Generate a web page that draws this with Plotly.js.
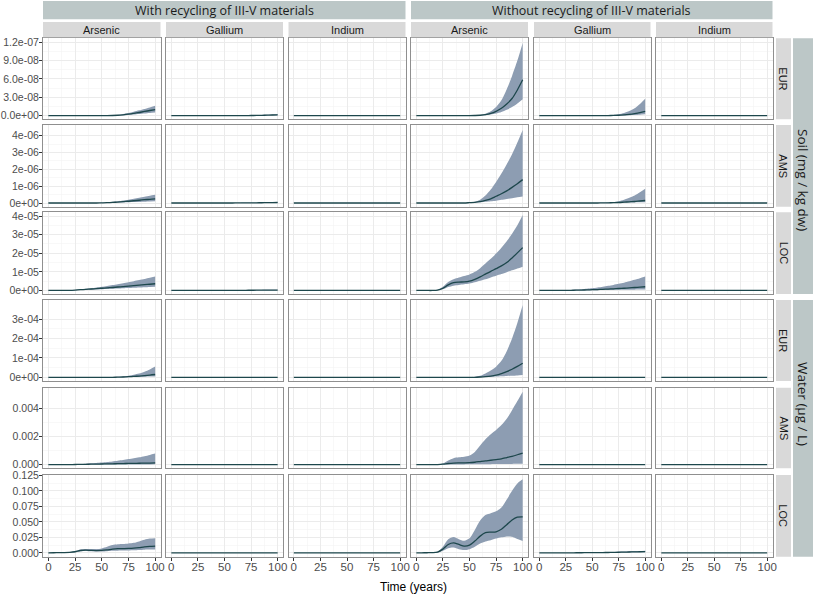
<!DOCTYPE html>
<html>
<head>
<meta charset="utf-8">
<script src="https://cdn.plot.ly/plotly-3.0.1.min.js"></script>
<style>html,body{margin:0;padding:0;background:#fff}#chart{width:813px;height:594px}</style>
</head>
<body>
<div id="chart"></div>
<script>
// ---------------- DATA ----------------
const scenarios = ['With recycling of III-V materials', 'Without recycling of III-V materials'];
const elements = ['Arsenic', 'Gallium', 'Indium'];
const regions = ['EUR', 'AMS', 'LOC'];
const media = ['Soil (mg / kg dw)', 'Water (µg / L)'];
const xTickVals = [0, 25, 50, 75, 100];
const xTickText = ['0', '25', '50', '75', '100'];
const time = [0,5,10,15,20,25,30,35,40,45,50,55,60,65,70,75,80,85,90,95,100];
const zeroSeries = [0,0,0,0,0,0,0,0,0,0,0,0,0,0,0,0,0,0,0,0,0];

// y ticks per row
const yTicks0 = [0, 3e-8, 6e-8, 9e-8, 1.2e-7];
const yText0 = ['0.0e+00', '3.0e-08', '6.0e-08', '9.0e-08', '1.2e-07'];
const yTicks1 = [0, 1e-6, 2e-6, 3e-6, 4e-6];
const yText1 = ['0e+00', '1e-06', '2e-06', '3e-06', '4e-06'];
const yTicks2 = [0, 1e-5, 2e-5, 3e-5, 4e-5];
const yText2 = ['0e+00', '1e-05', '2e-05', '3e-05', '4e-05'];
const yTicks3 = [0, 1e-4, 2e-4, 3e-4];
const yText3 = ['0e+00', '1e-04', '2e-04', '3e-04'];
const yTicks4 = [0, 0.002, 0.004];
const yText4 = ['0.000', '0.002', '0.004'];
const yTicks5 = [0, 0.025, 0.05, 0.075, 0.1, 0.125];
const yText5 = ['0.000', '0.025', '0.050', '0.075', '0.100', '0.125'];

// Soil EUR
const soilEUR_with_As_med = [0,0,0,0,0,0,0,0,0,0,0,0,2e-10,6e-10,1.3e-9,2.3e-9,3.6e-9,5.1e-9,6.8e-9,8.4e-9,1e-8];
const soilEUR_with_As_lo  = [0,0,0,0,0,0,0,0,0,0,0,0,1e-10,3e-10,6e-10,1.1e-9,1.8e-9,2.6e-9,3.4e-9,4.2e-9,5e-9];
const soilEUR_with_As_hi  = [0,0,0,0,0,0,0,0,0,0,0,0,4e-10,1.2e-9,2.5e-9,4.2e-9,6.3e-9,8.6e-9,1.1e-8,1.35e-8,1.6e-8];
const soilEUR_with_Ga_med = [0,0,0,0,0,0,0,0,0,0,0,0,0,5e-11,1e-10,2e-10,3e-10,5e-10,7e-10,1e-9,1.3e-9];
const soilEUR_with_Ga_lo  = [0,0,0,0,0,0,0,0,0,0,0,0,0,2e-11,5e-11,1e-10,2e-10,3e-10,4e-10,6e-10,8e-10];
const soilEUR_with_Ga_hi  = [0,0,0,0,0,0,0,0,0,0,0,0,0,1e-10,2e-10,4e-10,6e-10,9e-10,1.3e-9,1.7e-9,2.2e-9];
const soilEUR_without_As_med = [0,0,0,0,0,0,0,0,0,0,0,2e-10,6e-10,1.5e-9,3.5e-9,7e-9,1.2e-8,1.9e-8,2.8e-8,4.2e-8,5.86e-8];
const soilEUR_without_As_lo  = [0,0,0,0,0,0,0,0,0,0,0,1e-10,3e-10,8e-10,1.8e-9,3.5e-9,6e-9,9.5e-9,1.4e-8,2e-8,2.7e-8];
const soilEUR_without_As_hi  = [0,0,0,0,0,0,0,0,0,0,0,4e-10,1.2e-9,3e-9,7e-9,1.4e-8,2.5e-8,4.3e-8,6.5e-8,9e-8,1.19e-7];
const soilEUR_without_Ga_med = [0,0,0,0,0,0,0,0,0,0,0,0,0,1e-10,3e-10,6e-10,1.2e-9,2e-9,3.2e-9,4.8e-9,7e-9];
const soilEUR_without_Ga_lo  = [0,0,0,0,0,0,0,0,0,0,0,0,0,5e-11,1e-10,2e-10,4e-10,7e-10,1.1e-9,1.6e-9,2.2e-9];
const soilEUR_without_Ga_hi  = [0,0,0,0,0,0,0,0,0,0,0,0,1e-10,3e-10,1e-9,2.2e-9,4.2e-9,7.5e-9,1.2e-8,1.9e-8,2.77e-8];

// Soil AMS
const soilAMS_with_As_med = [0,0,0,0,0,0,0,0,0,0,1e-8,2e-8,3.5e-8,5.5e-8,8e-8,1.05e-7,1.35e-7,1.65e-7,1.95e-7,2.2e-7,2.4e-7];
const soilAMS_with_As_lo  = [0,0,0,0,0,0,0,0,0,0,5e-9,1e-8,1.6e-8,2.4e-8,3.3e-8,4.3e-8,5.4e-8,6.5e-8,7.7e-8,8.9e-8,1e-7];
const soilAMS_with_As_hi  = [0,0,0,0,0,0,0,0,0,0,2e-8,4e-8,7e-8,1.05e-7,1.5e-7,2e-7,2.55e-7,3.1e-7,3.7e-7,4.3e-7,4.9e-7];
const soilAMS_with_Ga_med = [0,0,0,0,0,0,0,0,0,0,0,1e-9,2e-9,4e-9,6e-9,9e-9,1.2e-8,1.6e-8,2e-8,2.5e-8,3e-8];
const soilAMS_with_Ga_lo  = [0,0,0,0,0,0,0,0,0,0,0,5e-10,1e-9,2e-9,3e-9,4.5e-9,6e-9,8e-9,1e-8,1.2e-8,1.5e-8];
const soilAMS_with_Ga_hi  = [0,0,0,0,0,0,0,0,0,0,0,2e-9,4e-9,7e-9,1.1e-8,1.6e-8,2.2e-8,2.8e-8,3.5e-8,4.2e-8,5e-8];
const soilAMS_without_As_med = [0,0,0,0,0,0,0,0,0,0,2e-8,4e-8,8e-8,1.5e-7,2.5e-7,4e-7,5.5e-7,7.2e-7,9.3e-7,1.15e-6,1.39e-6];
const soilAMS_without_As_lo  = [0,0,0,0,0,0,0,0,0,0,1e-8,2e-8,4e-8,7e-8,1e-7,1.4e-7,1.9e-7,2.4e-7,2.9e-7,3.4e-7,3.9e-7];
const soilAMS_without_As_hi  = [0,0,0,0,0,0,0,0,0,0,3e-8,8e-8,2e-7,4.5e-7,8e-7,1.25e-6,1.75e-6,2.3e-6,2.9e-6,3.6e-6,4.35e-6];
const soilAMS_without_Ga_med = [0,0,0,0,0,0,0,0,0,0,0,0,5e-9,1e-8,2e-8,3e-8,5e-8,7e-8,9e-8,1.2e-7,1.5e-7];
const soilAMS_without_Ga_lo  = [0,0,0,0,0,0,0,0,0,0,0,0,2e-9,4e-9,8e-9,1.2e-8,1.8e-8,2.5e-8,3.2e-8,4e-8,5e-8];
const soilAMS_without_Ga_hi  = [0,0,0,0,0,0,0,0,0,0,0,5e-9,1.5e-8,3e-8,6e-8,1.1e-7,2e-7,3.1e-7,4.5e-7,6.4e-7,8.5e-7];

// Soil LOC
const soilLOC_with_As_med = [0,0,0,0,5e-8,2e-7,4e-7,6e-7,8e-7,1e-6,1.2e-6,1.4e-6,1.6e-6,1.85e-6,2.1e-6,2.35e-6,2.6e-6,2.85e-6,3.1e-6,3.35e-6,3.6e-6];
const soilLOC_with_As_lo  = [0,0,0,0,2e-8,1e-7,2e-7,3e-7,4e-7,5.5e-7,7e-7,8e-7,9e-7,1e-6,1.2e-6,1.3e-6,1.45e-6,1.6e-6,1.75e-6,1.9e-6,2e-6];
const soilLOC_with_As_hi  = [0,0,0,0,1e-7,3e-7,6e-7,9e-7,1.2e-6,1.6e-6,2e-6,2.45e-6,2.9e-6,3.4e-6,3.9e-6,4.45e-6,5e-6,5.6e-6,6.2e-6,6.85e-6,7.5e-6];
const soilLOC_with_Ga_med = [0,0,0,0,0,0,5e-9,1e-8,2e-8,3e-8,4e-8,5e-8,6e-8,8e-8,1e-7,1.1e-7,1.3e-7,1.5e-7,1.7e-7,1.85e-7,2e-7];
const soilLOC_with_Ga_lo  = [0,0,0,0,0,0,2e-9,5e-9,1e-8,1.5e-8,2e-8,2.5e-8,3e-8,4e-8,5e-8,5.5e-8,6.5e-8,7.5e-8,8.5e-8,9e-8,1e-7];
const soilLOC_with_Ga_hi  = [0,0,0,0,0,0,1e-8,2e-8,4e-8,6e-8,8e-8,1e-7,1.2e-7,1.6e-7,2e-7,2.2e-7,2.6e-7,3e-7,3.4e-7,3.7e-7,4e-7];
const soilLOC_without_As_med = [0,0,0,0,2e-7,1.2e-6,3e-6,4.2e-6,4.5e-6,4.6e-6,5e-6,6e-6,7.3e-6,8.8e-6,1.03e-5,1.17e-5,1.32e-5,1.5e-5,1.75e-5,2.02e-5,2.3e-5];
const soilLOC_without_As_lo  = [0,0,0,0,1e-7,6e-7,1.8e-6,2.6e-6,3e-6,3.3e-6,3.7e-6,4.4e-6,5.2e-6,6e-6,7e-6,7.9e-6,8.8e-6,9.8e-6,1.08e-5,1.18e-5,1.28e-5];
const soilLOC_without_As_hi  = [0,0,0,0,4e-7,2e-6,4.5e-6,6e-6,7e-6,7.8e-6,8.6e-6,1e-5,1.2e-5,1.45e-5,1.7e-5,1.98e-5,2.3e-5,2.65e-5,3.05e-5,3.5e-5,4.05e-5];
const soilLOC_without_Ga_med = [0,0,0,0,0,2e-8,1e-7,1.5e-7,2e-7,3e-7,4e-7,5e-7,6e-7,7.5e-7,9e-7,1.05e-6,1.2e-6,1.4e-6,1.6e-6,1.8e-6,2e-6];
const soilLOC_without_Ga_lo  = [0,0,0,0,0,1e-8,4e-8,6e-8,8e-8,1e-7,1.3e-7,1.6e-7,2e-7,2.4e-7,2.8e-7,3.2e-7,3.6e-7,4e-7,4.4e-7,4.7e-7,5e-7];
const soilLOC_without_Ga_hi  = [0,0,0,0,0,5e-8,3e-7,5e-7,7e-7,9.5e-7,1.2e-6,1.6e-6,2e-6,2.5e-6,3e-6,3.6e-6,4.2e-6,4.9e-6,5.7e-6,6.6e-6,7.5e-6];

// Water EUR
const waterEUR_with_As_med = [0,0,0,0,0,0,0,0,0,0,0,2e-7,5e-7,1e-6,2e-6,3.5e-6,5e-6,7e-6,9.5e-6,1.2e-5,1.5e-5];
const waterEUR_with_As_lo  = [0,0,0,0,0,0,0,0,0,0,0,1e-7,2e-7,4e-7,7e-7,1.1e-6,1.6e-6,2.2e-6,3e-6,4e-6,5e-6];
const waterEUR_with_As_hi  = [0,0,0,0,0,0,0,0,0,0,0,5e-7,1.5e-6,3e-6,5.5e-6,9e-6,1.4e-5,2e-5,2.9e-5,4.1e-5,5.6e-5];
const waterEUR_without_As_med = [0,0,0,0,0,0,0,0,0,0,0,5e-7,2e-6,4e-6,7e-6,1.2e-5,2e-5,3e-5,4.2e-5,5.7e-5,7.3e-5];
const waterEUR_without_As_lo  = [0,0,0,0,0,0,0,0,0,0,0,2e-7,7e-7,1.5e-6,2.5e-6,4e-6,5.5e-6,7e-6,8.5e-6,1e-5,1.2e-5];
const waterEUR_without_As_hi  = [0,0,0,0,0,0,0,0,0,0,0,3e-6,8e-6,2e-5,3.5e-5,5.5e-5,8.5e-5,1.35e-4,2e-4,2.8e-4,3.72e-4];

// Water AMS
const waterAMS_with_As_med = [0,0,0,0,5e-6,1e-5,1.5e-5,2.2e-5,3e-5,3.7e-5,4.5e-5,5.2e-5,6e-5,6.7e-5,7.5e-5,8.2e-5,9e-5,9.7e-5,1.05e-4,1.12e-4,1.2e-4];
const waterAMS_with_As_lo  = [0,0,0,0,1e-6,2e-6,3e-6,4e-6,5e-6,6e-6,7e-6,8e-6,9e-6,1e-5,1.1e-5,1.2e-5,1.35e-5,1.5e-5,1.65e-5,1.8e-5,2e-5];
const waterAMS_with_As_hi  = [0,0,0,0,1e-5,2.5e-5,4e-5,6.5e-5,9e-5,1.2e-4,1.5e-4,1.9e-4,2.3e-4,2.8e-4,3.3e-4,3.9e-4,4.5e-4,5.2e-4,6e-4,6.9e-4,7.8e-4];
const waterAMS_without_As_med = [0,0,0,0,5e-6,3e-5,8e-5,1.1e-4,1.2e-4,1.25e-4,1.35e-4,1.7e-4,2.2e-4,2.7e-4,3.1e-4,3.6e-4,4.1e-4,5e-4,5.9e-4,7e-4,8.2e-4];
const waterAMS_without_As_lo  = [0,0,0,0,1e-6,5e-6,1e-5,1.3e-5,1.5e-5,1.7e-5,2e-5,2.3e-5,2.6e-5,2.9e-5,3.2e-5,3.6e-5,4e-5,4.5e-5,5e-5,5.5e-5,6e-5];
const waterAMS_without_As_hi  = [0,0,0,0,1e-5,8e-5,3e-4,4.6e-4,5.2e-4,5.6e-4,6.4e-4,9e-4,1.35e-3,1.8e-3,2.15e-3,2.45e-3,2.8e-3,3.25e-3,3.85e-3,4.5e-3,5.17e-3];

// Water LOC
const waterLOC_with_As_med = [0,2e-4,4e-4,5e-4,8e-4,1.8e-3,3.8e-3,4.3e-3,3.9e-3,3.7e-3,3.9e-3,4.8e-3,6e-3,6.7e-3,6.9e-3,7.1e-3,7.6e-3,8.5e-3,9.6e-3,1.03e-2,1.07e-2];
const waterLOC_with_As_lo  = [0,1e-4,2e-4,3e-4,4e-4,1.1e-3,2.5e-3,2.9e-3,2.4e-3,2.1e-3,2.1e-3,2.6e-3,3.2e-3,3.6e-3,3.7e-3,3.9e-3,4.2e-3,4.7e-3,5.2e-3,5.4e-3,5.5e-3];
const waterLOC_with_As_hi  = [0,3e-4,6e-4,8e-4,1.2e-3,2.6e-3,5.5e-3,6.4e-3,6.2e-3,6.2e-3,7.2e-3,9.8e-3,1.25e-2,1.38e-2,1.42e-2,1.5e-2,1.62e-2,1.85e-2,2.12e-2,2.3e-2,2.36e-2];
const waterLOC_without_As_med = [0,1e-4,2e-4,3e-4,1.2e-3,6e-3,1.35e-2,1.6e-2,1.35e-2,1.1e-2,1.25e-2,1.9e-2,2.7e-2,3.25e-2,3.35e-2,3.4e-2,3.8e-2,4.55e-2,5.3e-2,5.75e-2,5.8e-2];
const waterLOC_without_As_lo  = [0,5e-5,1e-4,2e-4,7e-4,3.5e-3,7.5e-3,8.5e-3,6e-3,4.5e-3,6e-3,1e-2,1.5e-2,1.85e-2,2.05e-2,2.3e-2,2.5e-2,2.65e-2,2.6e-2,2.25e-2,1.93e-2];
const waterLOC_without_As_hi  = [0,2e-4,4e-4,6e-4,2e-3,1e-2,2.2e-2,2.55e-2,2.2e-2,1.95e-2,2.35e-2,3.7e-2,5.2e-2,6.1e-2,6.4e-2,6.7e-2,7.3e-2,8.6e-2,1e-1,1.12e-1,1.186e-1];
const waterLOC_without_Ga_med = [0,0,0,0,0,0,1e-4,1.5e-4,2e-4,2.5e-4,3e-4,4e-4,5e-4,6e-4,8e-4,1e-3,1.2e-3,1.4e-3,1.6e-3,1.8e-3,2e-3];
const waterLOC_without_Ga_lo  = [0,0,0,0,0,0,5e-5,8e-5,1e-4,1.2e-4,1.5e-4,2e-4,2.5e-4,3e-4,4e-4,5e-4,6e-4,7e-4,8e-4,9e-4,1e-3];
const waterLOC_without_Ga_hi  = [0,0,0,0,0,0,2e-4,3e-4,4e-4,5e-4,6e-4,7e-4,9e-4,1.1e-3,1.4e-3,1.7e-3,2e-3,2.4e-3,2.8e-3,3.1e-3,3.5e-3];

// panel lookup: [row][col] -> [lo, med, hi]
const Zs = [zeroSeries, zeroSeries, zeroSeries];
const panels = [
  [[soilEUR_with_As_lo, soilEUR_with_As_med, soilEUR_with_As_hi], [soilEUR_with_Ga_lo, soilEUR_with_Ga_med, soilEUR_with_Ga_hi], Zs,
   [soilEUR_without_As_lo, soilEUR_without_As_med, soilEUR_without_As_hi], [soilEUR_without_Ga_lo, soilEUR_without_Ga_med, soilEUR_without_Ga_hi], Zs],
  [[soilAMS_with_As_lo, soilAMS_with_As_med, soilAMS_with_As_hi], [soilAMS_with_Ga_lo, soilAMS_with_Ga_med, soilAMS_with_Ga_hi], Zs,
   [soilAMS_without_As_lo, soilAMS_without_As_med, soilAMS_without_As_hi], [soilAMS_without_Ga_lo, soilAMS_without_Ga_med, soilAMS_without_Ga_hi], Zs],
  [[soilLOC_with_As_lo, soilLOC_with_As_med, soilLOC_with_As_hi], [soilLOC_with_Ga_lo, soilLOC_with_Ga_med, soilLOC_with_Ga_hi], Zs,
   [soilLOC_without_As_lo, soilLOC_without_As_med, soilLOC_without_As_hi], [soilLOC_without_Ga_lo, soilLOC_without_Ga_med, soilLOC_without_Ga_hi], Zs],
  [[waterEUR_with_As_lo, waterEUR_with_As_med, waterEUR_with_As_hi], Zs, Zs,
   [waterEUR_without_As_lo, waterEUR_without_As_med, waterEUR_without_As_hi], Zs, Zs],
  [[waterAMS_with_As_lo, waterAMS_with_As_med, waterAMS_with_As_hi], Zs, Zs,
   [waterAMS_without_As_lo, waterAMS_without_As_med, waterAMS_without_As_hi], Zs, Zs],
  [[waterLOC_with_As_lo, waterLOC_with_As_med, waterLOC_with_As_hi], Zs, Zs,
   [waterLOC_without_As_lo, waterLOC_without_As_med, waterLOC_without_As_hi], [waterLOC_without_Ga_lo, waterLOC_without_Ga_med, waterLOC_without_Ga_hi], Zs]
];
const rowTicks = [[yTicks0, yText0], [yTicks1, yText1], [yTicks2, yText2], [yTicks3, yText3], [yTicks4, yText4], [yTicks5, yText5]];

// ---------------- LAYOUT (pixel geometry) ----------------
const W = 813, H = 594;
const colPx = [[43, 160.5], [166, 283], [288.5, 405.5], [411, 528], [534, 650.5], [656, 772.5]];
const rowPx = [[38.3, 119.3], [125, 206.7], [212.3, 294], [300, 381], [387.7, 468.3], [475, 556.7]];
const yRanges = [[-6e-9, 1.265e-7], [-2.2e-7, 4.64e-6], [-1.9e-6, 4.2e-5], [-1.85e-5, 3.98e-4], [-2.6e-4, 5.45e-3], [-6.2e-3, 0.1256]];
const px = p => p / W;
const py = p => 1 - p / H;

const FONT = 'Liberation Sans, Arial, sans-serif';
const STRIPFONT = 'Open Sans, Liberation Sans, sans-serif';
const BAND = '#8d9db2';
const LINE = '#1d474c';

const traces = [];
const layout = {
  width: W, height: H,
  margin: {l: 0, r: 0, t: 0, b: 0},
  paper_bgcolor: '#ffffff', plot_bgcolor: '#ffffff',
  showlegend: false,
  shapes: [], annotations: []
};

function mids(v) { const m = []; for (let i = 0; i < v.length - 1; i++) m.push((v[i] + v[i + 1]) / 2); return m; }

for (let r = 0; r < 6; r++) {
  for (let c = 0; c < 6; c++) {
    const k = r * 6 + c + 1;
    const xa = 'x' + (k === 1 ? '' : k), ya = 'y' + (k === 1 ? '' : k);
    const [lo, med, hi] = panels[r][c];
    traces.push({x: time, y: lo, xaxis: xa, yaxis: ya, type: 'scatter', mode: 'lines',
      line: {width: 0, shape: 'spline', smoothing: 0.8}, hoverinfo: 'skip'});
    traces.push({x: time, y: hi, xaxis: xa, yaxis: ya, type: 'scatter', mode: 'lines',
      line: {width: 0, shape: 'spline', smoothing: 0.8}, fill: 'tonexty', fillcolor: BAND, hoverinfo: 'skip'});
    traces.push({x: time, y: med, xaxis: xa, yaxis: ya, type: 'scatter', mode: 'lines',
      line: {width: 1.3, color: LINE, shape: 'spline', smoothing: 0.8}});

    const xkey = 'xaxis' + (k === 1 ? '' : k), ykey = 'yaxis' + (k === 1 ? '' : k);
    layout[xkey] = {
      domain: [px(colPx[c][0]), px(colPx[c][1])], anchor: ya,
      range: [-5, 105], tickmode: 'array', tickvals: xTickVals, ticktext: xTickText,
      showticklabels: r === 5, ticks: r === 5 ? 'outside' : '', ticklen: 3, tickcolor: '#333',
      ticklabelstandoff: -4,
      tickfont: {family: FONT, size: 11.5, color: '#4d4d4d'},
      showgrid: true, gridcolor: '#ebebeb', gridwidth: 1,
      minor: {tickmode: 'array', tickvals: mids(xTickVals), showgrid: true, gridcolor: '#f3f3f3', gridwidth: 0.6, ticks: ''},
      showline: true, mirror: true, linecolor: '#8f8f8f', linewidth: 1,
      zeroline: false, fixedrange: true
    };
    const [tv, tt] = rowTicks[r];
    layout[ykey] = {
      domain: [py(rowPx[r][1]), py(rowPx[r][0])], anchor: xa,
      range: yRanges[r], tickmode: 'array', tickvals: tv, ticktext: tt,
      showticklabels: c === 0, ticks: c === 0 ? 'outside' : '', ticklen: 3, tickcolor: '#333',
      ticklabelstandoff: -2,
      tickfont: {family: FONT, size: 10.5, color: '#4d4d4d'},
      showgrid: true, gridcolor: '#ebebeb', gridwidth: 1,
      minor: {tickmode: 'array', tickvals: mids(tv), showgrid: true, gridcolor: '#f3f3f3', gridwidth: 0.6, ticks: ''},
      showline: true, mirror: true, linecolor: '#8f8f8f', linewidth: 1,
      zeroline: false, fixedrange: true
    };
  }
}

// column strips
for (let c = 0; c < 6; c++) {
  layout.shapes.push({type: 'rect', xref: 'paper', yref: 'paper', x0: px(colPx[c][0]), x1: px(colPx[c][1]),
    y0: py(37.3), y1: py(22), fillcolor: '#d9d9d9', line: {width: 0}});
  layout.annotations.push({xref: 'paper', yref: 'paper', x: px((colPx[c][0] + colPx[c][1]) / 2), y: py(29.7),
    text: elements[c % 3], showarrow: false, xanchor: 'center', yanchor: 'middle',
    font: {family: FONT, size: 11, color: '#1a1a1a'}});
}
// scenario strips
for (let s = 0; s < 2; s++) {
  const x0 = colPx[s * 3][0], x1 = colPx[s * 3 + 2][1];
  layout.shapes.push({type: 'rect', xref: 'paper', yref: 'paper', x0: px(x0), x1: px(x1),
    y0: py(19.3), y1: py(1), fillcolor: '#bcc7c7', line: {width: 0}});
  layout.annotations.push({xref: 'paper', yref: 'paper', x: px((x0 + x1) / 2), y: py(10.2),
    text: scenarios[s], showarrow: false, xanchor: 'center', yanchor: 'middle',
    font: {family: STRIPFONT, size: 12.5, color: '#1a1a1a'}});
}
// region strips
for (let r = 0; r < 6; r++) {
  layout.shapes.push({type: 'rect', xref: 'paper', yref: 'paper', x0: px(776), x1: px(791),
    y0: py(rowPx[r][1]), y1: py(rowPx[r][0]), fillcolor: '#d9d9d9', line: {width: 0}});
  layout.annotations.push({xref: 'paper', yref: 'paper', x: px(783.5), y: py((rowPx[r][0] + rowPx[r][1]) / 2),
    text: regions[r % 3], showarrow: false, textangle: 90, xanchor: 'center', yanchor: 'middle',
    font: {family: FONT, size: 11, color: '#1a1a1a'}});
}
// media strips (label centres as placed in the reference)
const mediaLabelY = [180, 404];
for (let m = 0; m < 2; m++) {
  const y0 = rowPx[m * 3][0], y1 = rowPx[m * 3 + 2][1];
  layout.shapes.push({type: 'rect', xref: 'paper', yref: 'paper', x0: px(793), x1: px(813),
    y0: py(y1), y1: py(y0), fillcolor: '#bcc7c7', line: {width: 0}});
  layout.annotations.push({xref: 'paper', yref: 'paper', x: px(803), y: py(mediaLabelY[m]),
    text: media[m], showarrow: false, textangle: 90, xanchor: 'center', yanchor: 'middle',
    font: {family: STRIPFONT, size: 13.5, color: '#1a1a1a'}});
}
// x axis title
layout.annotations.push({xref: 'paper', yref: 'paper', x: px(413), y: py(587),
  text: 'Time (years)', showarrow: false, xanchor: 'center', yanchor: 'middle',
  font: {family: FONT, size: 12, color: '#000'}});

Plotly.newPlot('chart', traces, layout, {staticPlot: true, displayModeBar: false});
</script>
</body>
</html>
